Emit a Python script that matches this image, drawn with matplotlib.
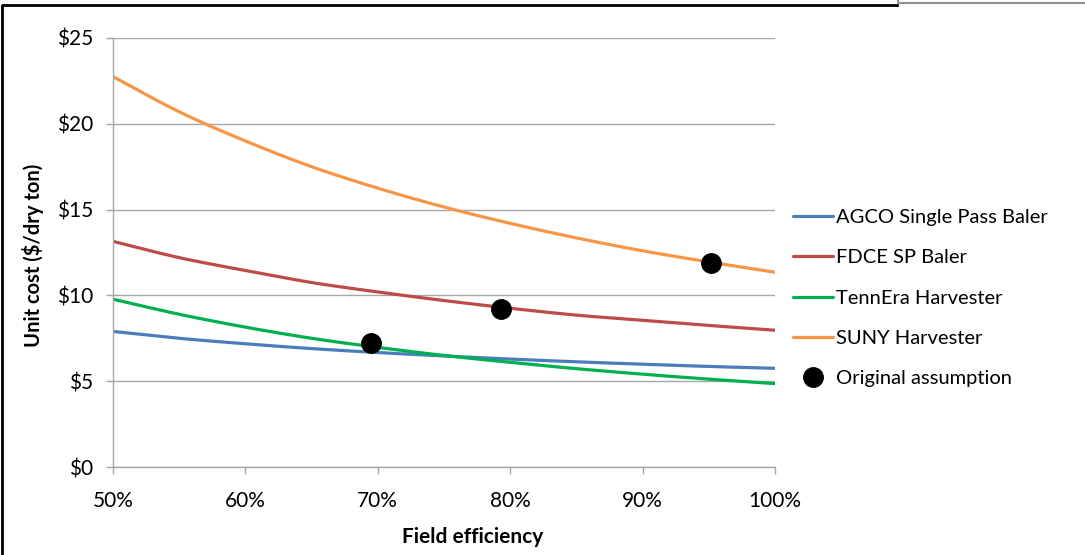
import matplotlib
matplotlib.use("Agg")
import numpy as np
import matplotlib.pyplot as plt
from matplotlib.lines import Line2D
from matplotlib.ticker import FuncFormatter, MultipleLocator

plt.rcParams['font.family'] = ['Lato', 'DejaVu Sans']

efficiency = [0.50, 0.55, 0.60, 0.65, 0.70, 0.75, 0.80, 0.85, 0.90, 0.95, 1.00]
agco = [7.90, 7.50, 7.18, 6.90, 6.67, 6.47, 6.29, 6.13, 5.99, 5.86, 5.75]
fdce = [13.15, 12.20, 11.45, 10.75, 10.20, 9.70, 9.25, 8.85, 8.55, 8.25, 7.97]
tennera = [9.78, 8.90, 8.15, 7.50, 6.97, 6.50, 6.10, 5.73, 5.41, 5.12, 4.86]
suny = [22.75, 20.70, 19.00, 17.50, 16.25, 15.15, 14.20, 13.35, 12.60, 11.95, 11.35]
orig_x = [0.695, 0.793, 0.952]
orig_y = [7.23, 9.20, 11.88]

series_names = ["AGCO Single Pass Baler", "FDCE SP Baler", "TennEra Harvester", "SUNY Harvester"]
colors = ["#4A7EBB", "#BE4B48", "#00B050", "#F79646"]


def smooth(xs, ys, n=20):
    """Catmull-Rom rendering through the given points (like a smoothed line)."""
    x = np.asarray(xs, float)
    y = np.asarray(ys, float)
    px = np.concatenate([[2 * x[0] - x[1]], x, [2 * x[-1] - x[-2]]])
    py = np.concatenate([[2 * y[0] - y[1]], y, [2 * y[-1] - y[-2]]])
    outx, outy = [], []
    t = np.linspace(0, 1, n, endpoint=False)
    for i in range(1, len(px) - 2):
        for P, out in ((px, outx), (py, outy)):
            p0, p1, p2, p3 = P[i - 1], P[i], P[i + 1], P[i + 2]
            out.extend(0.5 * ((2 * p1) + (-p0 + p2) * t + (2 * p0 - 5 * p1 + 4 * p2 - p3) * t ** 2
                              + (-p0 + 3 * p1 - 3 * p2 + p3) * t ** 3))
    outx.append(x[-1])
    outy.append(y[-1])
    return outx, outy


W, H = 1085, 555
fig = plt.figure(figsize=(W / 100, H / 100), dpi=100)
ax = fig.add_axes([113 / W, 1 - 467 / H, (775 - 113) / W, (467 - 38) / H])

for vals, name, c in zip([agco, fdce, tennera, suny], series_names, colors):
    sx, sy = smooth(efficiency, vals)
    ax.plot(sx, sy, color=c, lw=2.3, label=name, solid_capstyle='round')
ax.plot(orig_x, orig_y, 'o', color='black', markersize=14, linestyle='none',
        label="Original assumption", zorder=5)

ax.set_xlim(0.5, 1.0)
ax.set_ylim(0, 25)
ax.xaxis.set_major_locator(MultipleLocator(0.1))
ax.yaxis.set_major_locator(MultipleLocator(5))
ax.xaxis.set_major_formatter(FuncFormatter(lambda v, p: f"{v*100:.0f}%"))
ax.yaxis.set_major_formatter(FuncFormatter(lambda v, p: f"${v:.0f}"))
ax.grid(axis='y', color='#A6A6A6', lw=1)
ax.set_axisbelow(True)
for s in ['top', 'right']:
    ax.spines[s].set_visible(False)
for s in ['left', 'bottom']:
    ax.spines[s].set_color('#A6A6A6')
    ax.spines[s].set_linewidth(1)
ax.tick_params(axis='both', colors='#A6A6A6', labelcolor='black', labelsize=15, length=5, width=1)
ax.tick_params(axis='x', pad=12)
ax.tick_params(axis='y', pad=9)

fig.text(473 / W, 1 - 537 / H, "Field efficiency", ha='center', va='center',
         fontsize=15, fontweight='bold')
fig.text(33 / W, 1 - 255 / H, "Unit cost ($/dry ton)", ha='center', va='center',
         rotation=90, fontsize=14.5, fontweight='bold')

leg = ax.legend(loc='upper left', bbox_to_anchor=(793 / W, 1 - 209 / H),
                bbox_transform=fig.transFigure, frameon=False, fontsize=14.5,
                handlelength=2.0, handletextpad=0.15, labelspacing=1.15,
                borderpad=0, borderaxespad=0)

# outer frame (partial, as in the reference crop)
fig.add_artist(Line2D([1.5 / W, 1.5 / W, 897 / W], [0, 1 - 5 / H, 1 - 5 / H],
                      transform=fig.transFigure, color='black', lw=2))
fig.add_artist(Line2D([898 / W, 898 / W, 1], [1, 1 - 2.5 / H, 1 - 2.5 / H],
                      transform=fig.transFigure, color='#909090', lw=1.5))

fig.savefig("out.png", dpi=100)
